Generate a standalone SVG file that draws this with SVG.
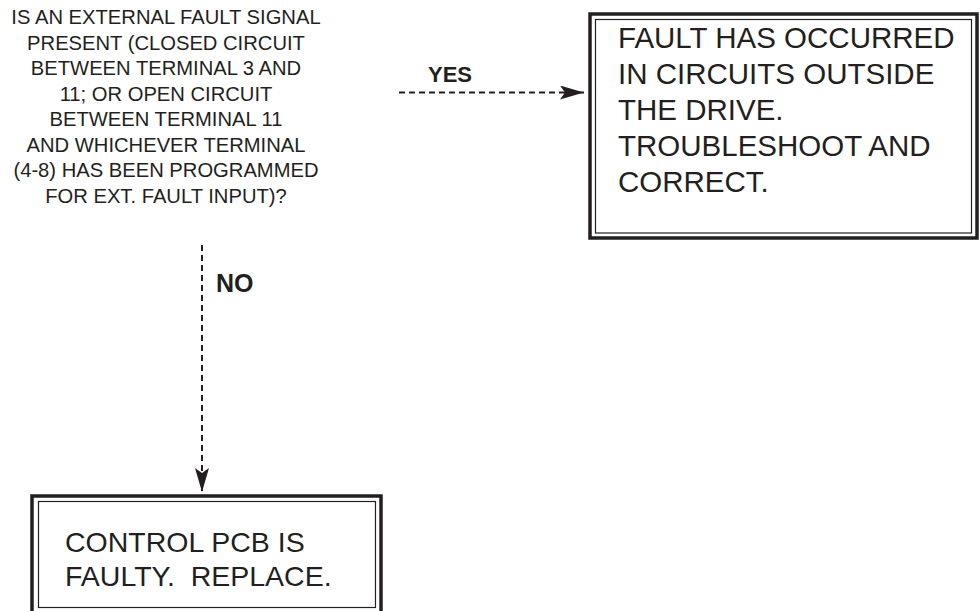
<svg xmlns="http://www.w3.org/2000/svg" width="980" height="611" viewBox="0 0 980 611">
<style>
  .q { font-family: "Liberation Sans", Arial, sans-serif; font-size: 20.2px; fill: #231f20; text-anchor: middle; }
  .b { font-family: "Liberation Sans", Arial, sans-serif; font-size: 29.5px; fill: #231f20; white-space: pre; }
  .b2 { font-family: "Liberation Sans", Arial, sans-serif; font-size: 28.5px; fill: #231f20; white-space: pre; }
  .lbl { font-family: "Liberation Sans", Arial, sans-serif; font-size: 22px; font-weight: bold; fill: #231f20; }
  .outer { fill: none; stroke: #231f20; stroke-width: 3.5; }
  .inner { fill: none; stroke: #231f20; stroke-width: 1.2; }
  .dash { fill: none; stroke: #231f20; stroke-width: 2; stroke-dasharray: 6 4; }
</style>
<defs>
  <marker id="ah" markerUnits="userSpaceOnUse" markerWidth="24" markerHeight="14" refX="24" refY="7" orient="auto">
    <path d="M0,0 L24,7 L0,14 L5,7 Z" fill="#231f20"/>
  </marker>
</defs>
<rect width="980" height="611" fill="#ffffff"/>
<g id="question">
  <text class="q" x="166" y="24">IS AN EXTERNAL FAULT SIGNAL</text>
  <text class="q" x="166" y="50">PRESENT (CLOSED CIRCUIT</text>
  <text class="q" x="166" y="75">BETWEEN TERMINAL 3 AND</text>
  <text class="q" x="166" y="101">11; OR OPEN CIRCUIT</text>
  <text class="q" x="166" y="126">BETWEEN TERMINAL 11</text>
  <text class="q" x="166" y="152">AND WHICHEVER TERMINAL</text>
  <text class="q" x="166" y="177">(4-8) HAS BEEN PROGRAMMED</text>
  <text class="q" x="166" y="203">FOR EXT. FAULT INPUT)?</text>
</g>
<g id="outside-fault">
  <rect class="outer" x="590" y="14" width="387" height="224"/>
  <rect class="inner" x="595.5" y="19.5" width="376" height="213.5"/>
  <text class="b" x="618" y="48">FAULT HAS OCCURRED</text>
  <text class="b" x="618" y="84">IN CIRCUITS OUTSIDE</text>
  <text class="b" x="618" y="120">THE DRIVE.</text>
  <text class="b" x="618" y="156">TROUBLESHOOT AND</text>
  <text class="b" x="618" y="192">CORRECT.</text>
</g>
<g id="replace-pcb">
  <rect class="outer" x="32" y="496" width="349" height="121"/>
  <rect class="inner" x="38.5" y="501.5" width="337" height="106"/>
  <text class="b2" x="65" y="552">CONTROL PCB IS</text>
  <text class="b2" x="65" y="586">FAULTY.  REPLACE.</text>
</g>
<g id="connectors">
  <line class="dash" x1="399" y1="92.5" x2="584" y2="92.5" marker-end="url(#ah)"/>
  <text class="lbl" x="428" y="82">YES</text>
  <line class="dash" x1="202" y1="245" x2="202" y2="492" marker-end="url(#ah)"/>
  <text class="lbl" x="216" y="292" style="font-size:25px">NO</text>
</g>
</svg>
